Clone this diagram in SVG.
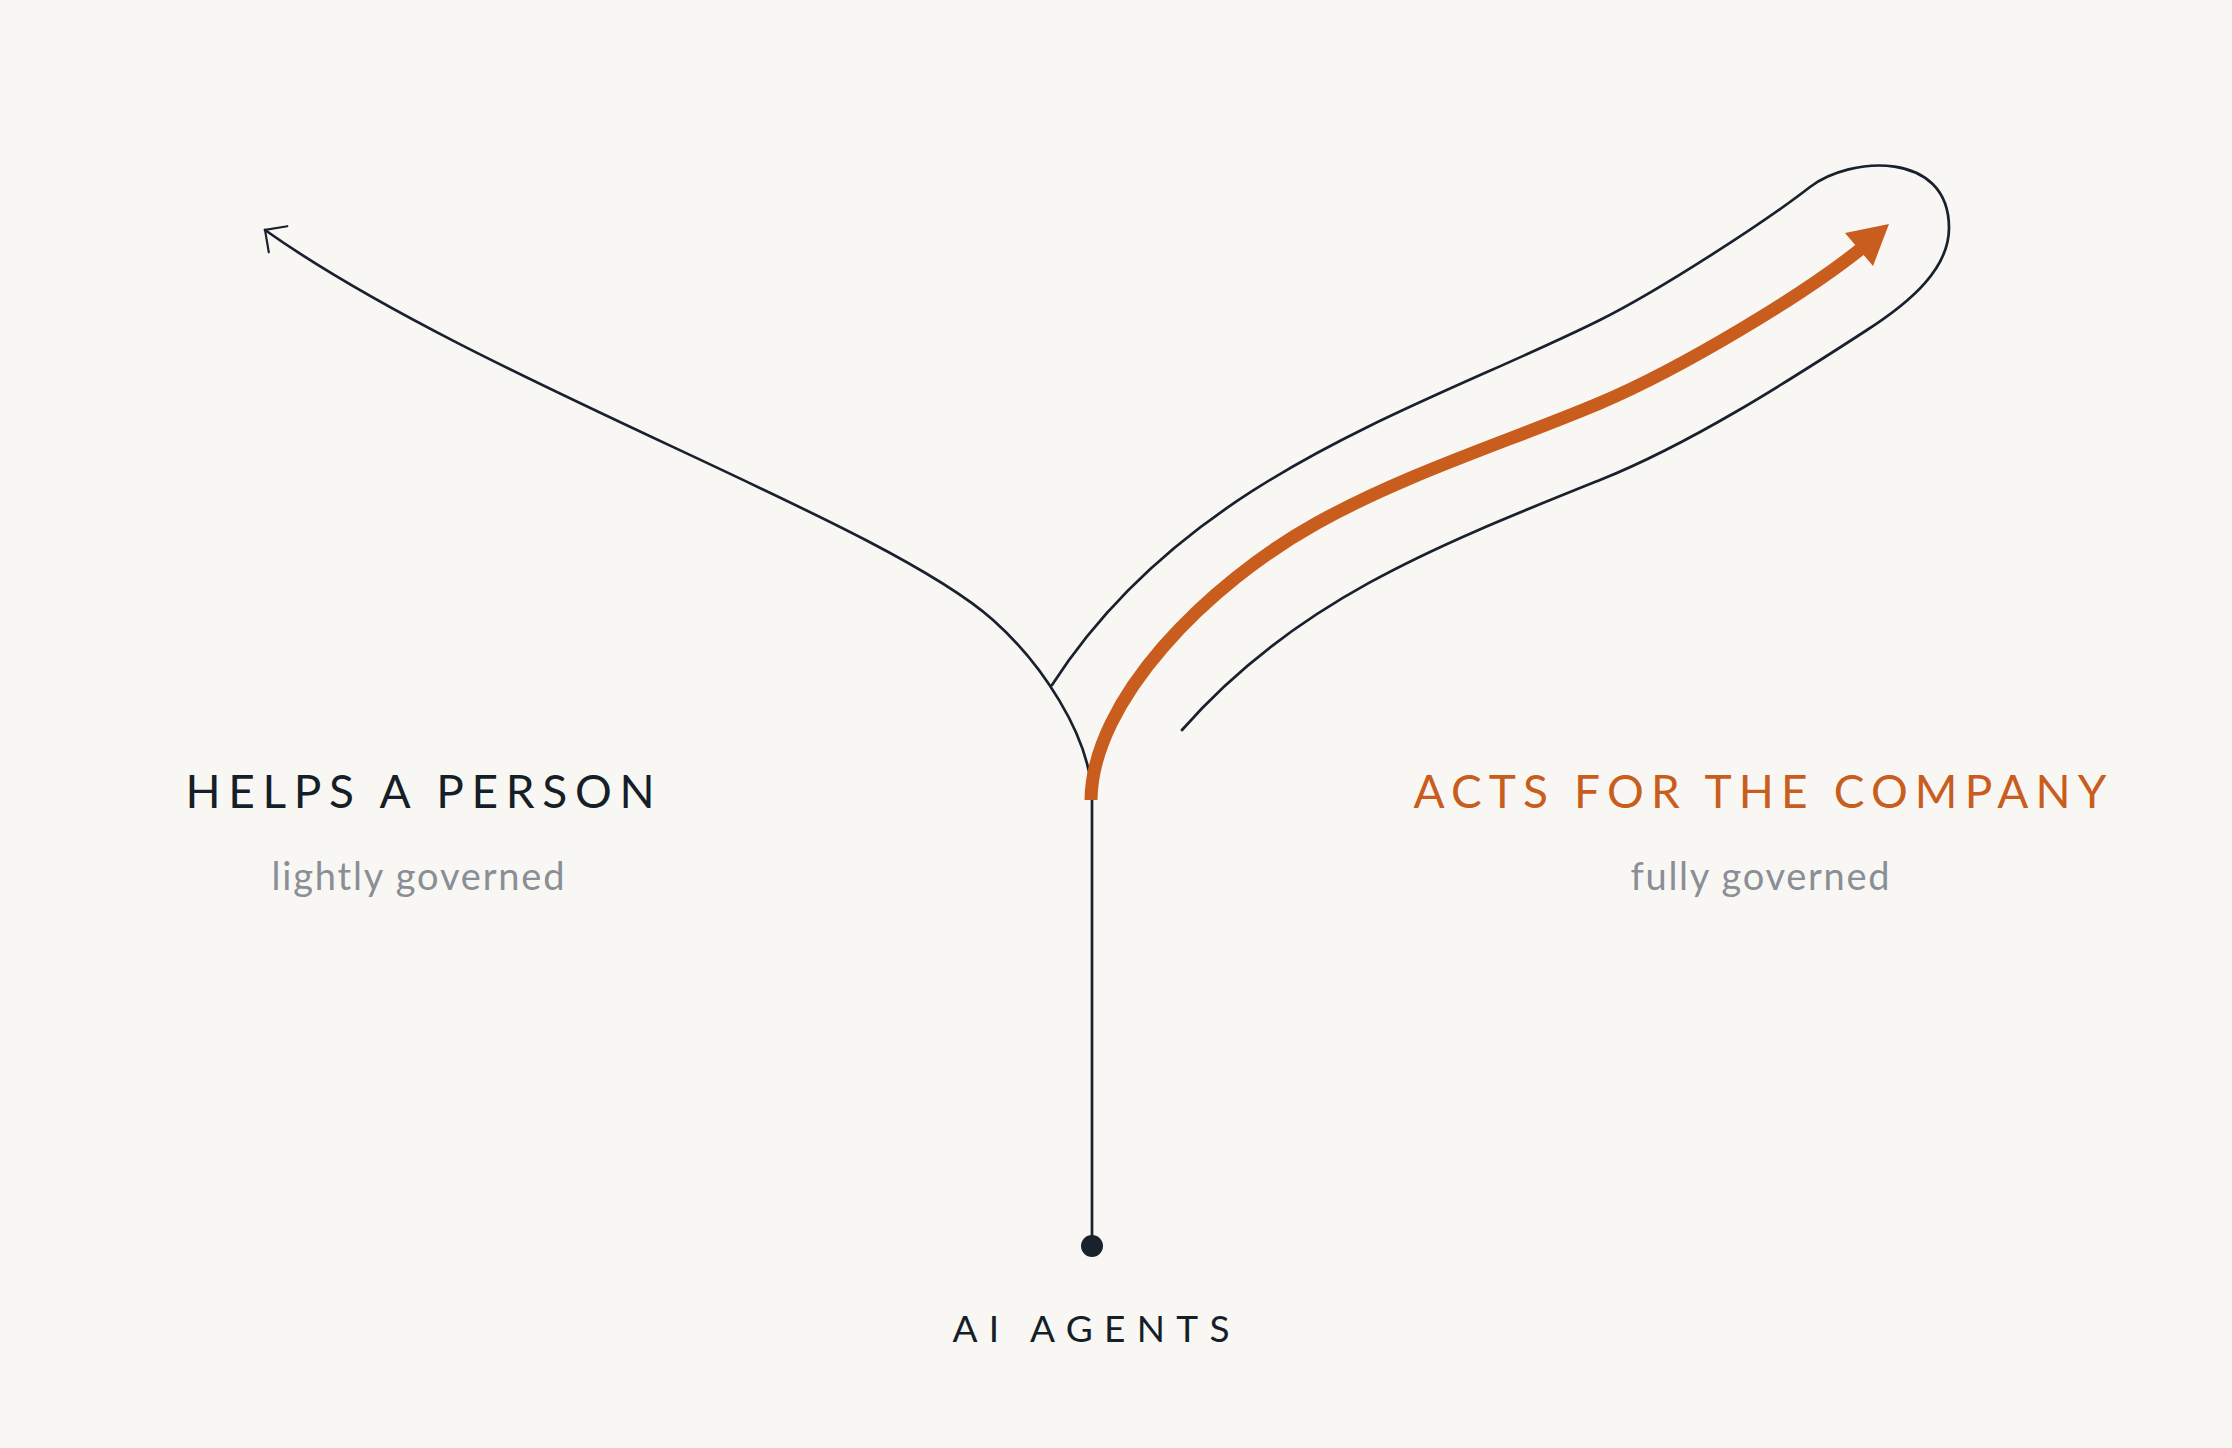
<svg xmlns="http://www.w3.org/2000/svg" width="2232" height="1448" viewBox="0 0 2232 1448">
<style>
.bg{fill:#f8f7f4}
.ln{fill:none;stroke:#18212c;stroke-width:2.7;stroke-linecap:round}
.or{fill:none;stroke:#c95d1e;stroke-width:13;stroke-linecap:butt}
.h{font-family:Lato,"Liberation Sans",sans-serif;font-size:46px;font-weight:400;text-anchor:middle}
.s{font-family:Lato,"Liberation Sans",sans-serif;font-size:38px;fill:#8a8e95;text-anchor:middle}
.dark{fill:#161e28}
.orange{fill:#c95d1e}
</style>
<defs>
<marker id="chev" markerUnits="userSpaceOnUse" markerWidth="40" markerHeight="40" viewBox="-25 -25 30 50" refX="0" refY="0" orient="auto">
<path d="M-20,-20 L0,0 L-20,20" fill="none" stroke="#18212c" stroke-width="2.7" stroke-linecap="round" stroke-linejoin="miter"/>
</marker>
</defs>
<rect class="bg" x="0" y="0" width="2232" height="1448"/>
<g id="connectors">
<path id="left-branch" class="ln" d="M1092,1246 L1092,800 C1092,735 1038,660 993,620 C881,520 478,381 265,230" marker-end="url(#chev)"/>
<path id="governance-outline" class="ln" d="M1052,685 C1187,475 1421,409 1600,320 C1660,290 1765,222 1810,187 C1850,156 1949,150 1949,228 C1949,268 1912,301 1867,330 C1787,382 1690,444 1600,480 C1433,547 1294,602 1182,730"/>
<path id="right-branch" class="or" d="M1091,800 C1092,700 1207,584 1317,523 C1407,473 1510,441 1600,403 C1680,369 1808,293 1868,243"/>
<polygon id="right-arrowhead" class="orange" points="1889,224 1845,233 1873,266"/>
</g>
<g id="node-ai-agents">
<circle cx="1092" cy="1246" r="11" fill="#18212c"/>
<text class="h dark" x="1091" y="1342" style="font-size:37px" textLength="277" lengthAdjust="spacing">AI AGENTS</text>
</g>
<g id="node-helps-a-person">
<text class="h dark" x="420" y="808" textLength="469" lengthAdjust="spacing">HELPS A PERSON</text>
<text class="s" x="418" y="890" textLength="293" lengthAdjust="spacing">lightly governed</text>
</g>
<g id="node-acts-for-the-company">
<text class="h orange" x="1760" y="808" textLength="693" lengthAdjust="spacing">ACTS FOR THE COMPANY</text>
<text class="s" x="1760" y="890" textLength="259" lengthAdjust="spacing">fully governed</text>
</g>
</svg>
